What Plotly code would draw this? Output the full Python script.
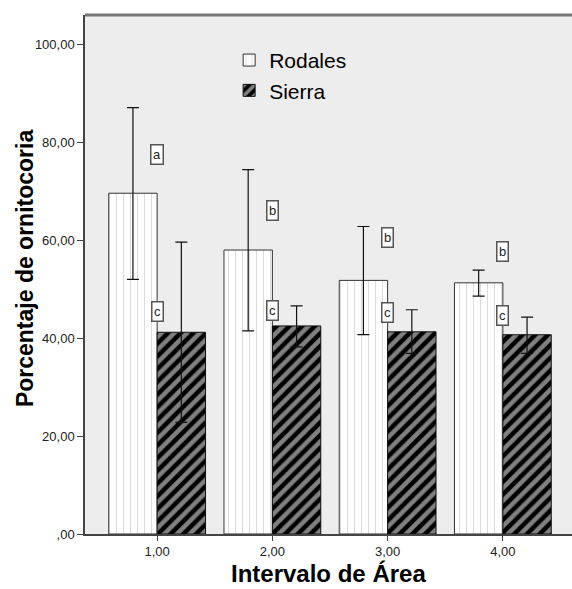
import plotly.graph_objects as go

categories = [1, 2, 3, 4]
cat_labels = ["1,00", "2,00", "3,00", "4,00"]

rodales = [69.6, 58.0, 51.8, 51.3]
rodales_hi = [87.1, 74.4, 62.8, 53.9]
rodales_lo = [52.0, 41.5, 40.7, 48.6]

sierra = [41.2, 42.5, 41.3, 40.7]
sierra_hi = [59.6, 46.6, 45.8, 44.3]
sierra_lo = [22.8, 38.2, 36.9, 36.9]

letters_r = ["a", "b", "b", "b"]
letters_r_y = [77.5, 66.1, 60.5, 57.7]
letters_s = ["c", "c", "c", "c"]
letters_s_y = [45.4, 45.6, 45.2, 44.6]

y_ticks = [0, 20, 40, 60, 80, 100]
y_ticktext = [",00", "20,00", "40,00", "60,00", "80,00", "100,00"]

FONT = "Liberation Sans, Arial, sans-serif"

fig = go.Figure()
fig.add_trace(go.Bar(
    x=categories, y=rodales, name="Rodales",
    marker=dict(color="white", line=dict(color="#333333", width=1),
                pattern=dict(shape="|", fgcolor="#b5b5b5", bgcolor="white",
                             size=7, solidity=0.14)),
    error_y=dict(type="data", symmetric=False,
                 array=[h - v for h, v in zip(rodales_hi, rodales)],
                 arrayminus=[v - l for v, l in zip(rodales, rodales_lo)],
                 color="#111111", thickness=1.2, width=6),
))
fig.add_trace(go.Bar(
    x=categories, y=sierra, name="Sierra",
    marker=dict(color="black", line=dict(color="#111111", width=1),
                pattern=dict(shape="/", fgcolor="white", bgcolor="black",
                             size=9, solidity=0.5)),
    error_y=dict(type="data", symmetric=False,
                 array=[h - v for h, v in zip(sierra_hi, sierra)],
                 arrayminus=[v - l for v, l in zip(sierra, sierra_lo)],
                 color="#111111", thickness=1.2, width=6),
))

annotations = []
for c, t, yv in zip(categories, letters_r, letters_r_y):
    annotations.append(dict(x=c, y=yv, xref="x", yref="y", text=t, showarrow=False,
                            font=dict(family=FONT, size=13, color="#222"),
                            bgcolor="white", bordercolor="#555", borderwidth=1.5, borderpad=1.5))
for c, t, yv in zip(categories, letters_s, letters_s_y):
    annotations.append(dict(x=c, y=yv, xref="x", yref="y", text=t, showarrow=False,
                            font=dict(family=FONT, size=13, color="#222"),
                            bgcolor="white", bordercolor="#555", borderwidth=1.5, borderpad=1.5))

annotations.append(dict(x=-0.123, y=0.5125, xref="paper", yref="paper",
                        text="<b>Porcentaje de ornitocoria</b>", textangle=-90,
                        showarrow=False, xanchor="center", yanchor="middle",
                        font=dict(family=FONT, size=23, color="black")))
annotations.append(dict(x=0.499, y=-0.077, xref="paper", yref="paper",
                        text="<b>Intervalo de Área</b>",
                        showarrow=False, xanchor="center", yanchor="middle",
                        font=dict(family=FONT, size=24, color="black")))

fig.update_layout(
    width=572, height=589,
    margin=dict(l=85, r=0, t=15, b=55),
    paper_bgcolor="white", plot_bgcolor="#ededed",
    barmode="group", bargap=0.16, bargroupgap=0,
    font=dict(family=FONT, size=13, color="#222"),
    showlegend=True,
    legend=dict(x=0.296, y=0.952, xanchor="left", yanchor="top",
                bgcolor="rgba(0,0,0,0)", font=dict(family=FONT, size=21, color="black"),
                tracegroupgap=0, itemwidth=30),
    annotations=annotations,
    shapes=[dict(type="line", xref="paper", yref="paper", x0=0, x1=1, y0=1, y1=1,
                 line=dict(color="#777777", width=3))],
)
fig.update_xaxes(range=[0.374, 4.6], tickvals=categories, ticktext=cat_labels,
                 showgrid=False, zeroline=False, showline=True, linecolor="#444",
                 linewidth=1.5, ticks="outside", ticklen=5, tickcolor="#444",
                 tickfont=dict(family=FONT, size=13, color="#222"))
fig.update_yaxes(range=[0, 106], tickvals=y_ticks, ticktext=y_ticktext,
                 showgrid=False, zeroline=False, showline=True, linecolor="#444",
                 linewidth=1.5, ticks="outside", ticklen=6, tickcolor="#444",
                 tickfont=dict(family=FONT, size=13, color="#222"))

fig.write_html("out.html")
